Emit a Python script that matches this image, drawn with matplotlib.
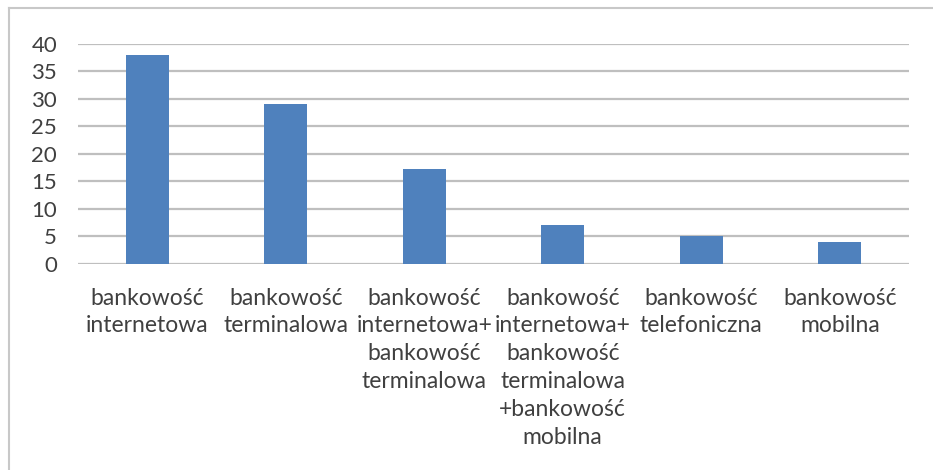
import matplotlib.pyplot as plt
from matplotlib.lines import Line2D

kategorie = [
    "bankowość\ninternetowa",
    "bankowość\nterminalowa",
    "bankowość\ninternetowa+\nbankowość\nterminalowa",
    "bankowość\ninternetowa+\nbankowość\nterminalowa\n+bankowość\nmobilna",
    "bankowość\ntelefoniczna",
    "bankowość\nmobilna",
]
wartosci = [38, 29, 17.3, 7, 5, 4]
y_ticks = [0, 5, 10, 15, 20, 25, 30, 35, 40]

plt.rcParams['font.family'] = ['Lato', 'DejaVu Sans']

W, H = 933, 470
fig = plt.figure(figsize=(W / 100, H / 100), dpi=100)
ax = fig.add_axes([78 / W, 1 - 264 / H, (909 - 78) / W, (264 - 43.5) / H])

x = range(len(kategorie))
ax.bar(x, wartosci, width=0.31, color='#4f81bd', zorder=3)

ax.set_xlim(-0.5, len(kategorie) - 0.5)
ax.set_ylim(0, 40)
ax.set_yticks(y_ticks)
ax.set_yticklabels([str(v) for v in y_ticks], fontsize=16, color='#404040')
ax.set_xticks(list(x))
ax.set_xticklabels(kategorie, fontsize=16.5, color='#404040', linespacing=1.4,
                   va='top', ha='center')
ax.tick_params(axis='both', length=0)
ax.tick_params(axis='y', pad=15)
ax.tick_params(axis='x', pad=17)
ax.grid(axis='y', color='#bfbfbf', linewidth=1.6, zorder=0)
for s in ax.spines.values():
    s.set_visible(False)

# ramka wykresu (lewa i gorna krawedz)
fig.add_artist(Line2D([9 / W, 9 / W], [0, 1 - 8 / H], color='#c8c8c8', linewidth=1.5))
fig.add_artist(Line2D([9 / W, 1], [1 - 8 / H, 1 - 8 / H], color='#c8c8c8', linewidth=1.5))

fig.savefig('out.png', dpi=100)
